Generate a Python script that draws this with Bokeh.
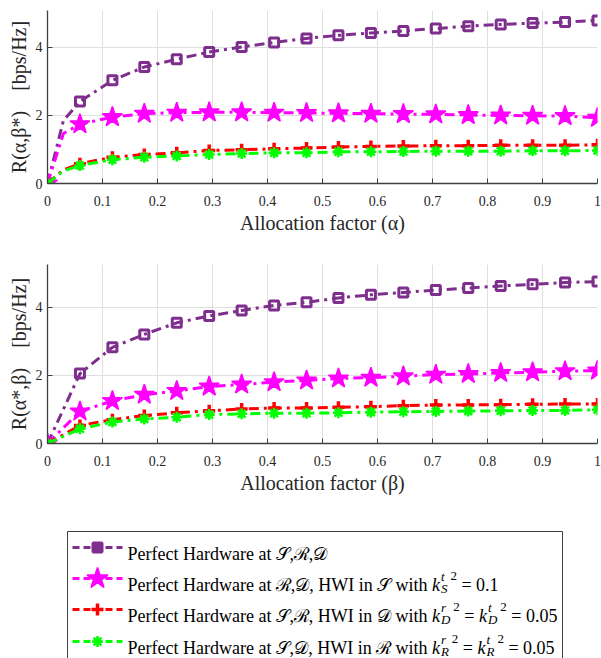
from bokeh.plotting import figure
from bokeh.layouts import column
from bokeh.models import Range1d, FixedTicker, ColumnDataSource
from bokeh.embed import file_html
from bokeh.resources import INLINE
from bokeh.core.properties import value

# ---------------- data ----------------
alpha = [0, 0.029, 0.059, 0.118, 0.176, 0.235, 0.294, 0.353, 0.412, 0.471,
         0.529, 0.588, 0.647, 0.706, 0.765, 0.824, 0.882, 0.941, 1.0]
top_purple = [0, 1.85, 2.41, 3.03, 3.42, 3.65, 3.86, 4.01, 4.14, 4.26,
              4.35, 4.42, 4.48, 4.55, 4.62, 4.67, 4.71, 4.74, 4.79]
top_magenta = [0, 1.47, 1.74, 1.95, 2.05, 2.08, 2.09, 2.09, 2.08, 2.07,
               2.06, 2.05, 2.04, 2.03, 2.01, 2.00, 1.99, 1.98, 1.93]
top_red = [0, 0.40, 0.58, 0.77, 0.85, 0.90, 0.97, 0.99, 1.02, 1.04,
           1.07, 1.09, 1.10, 1.11, 1.11, 1.12, 1.12, 1.12, 1.14]
top_green = [0, 0.37, 0.53, 0.70, 0.77, 0.81, 0.85, 0.88, 0.90, 0.90,
             0.93, 0.93, 0.94, 0.95, 0.95, 0.95, 0.96, 0.96, 0.97]
top_no_marker_index = 1

beta = [0, 0.059, 0.118, 0.176, 0.235, 0.294, 0.353, 0.412, 0.471,
        0.529, 0.588, 0.647, 0.706, 0.765, 0.824, 0.882, 0.941, 1.0]
bot_purple = [0, 2.05, 2.82, 3.20, 3.54, 3.74, 3.90, 4.05, 4.14,
              4.27, 4.36, 4.43, 4.50, 4.56, 4.62, 4.67, 4.72, 4.75]
bot_magenta = [0, 0.94, 1.25, 1.43, 1.54, 1.67, 1.73, 1.80, 1.85,
               1.91, 1.93, 1.97, 2.02, 2.04, 2.07, 2.09, 2.12, 2.14]
bot_red = [0, 0.53, 0.70, 0.82, 0.90, 0.96, 1.01, 1.04, 1.04,
           1.06, 1.08, 1.11, 1.13, 1.13, 1.14, 1.15, 1.16, 1.16]
bot_green = [0, 0.43, 0.63, 0.72, 0.77, 0.85, 0.87, 0.89, 0.89,
             0.90, 0.92, 0.93, 0.94, 0.95, 0.96, 0.97, 0.97, 0.99]

x_ticks = [0, 0.1, 0.2, 0.3, 0.4, 0.5, 0.6, 0.7, 0.8, 0.9, 1.0]
x_tick_labels = ["0", "0.1", "0.2", "0.3", "0.4", "0.5", "0.6", "0.7", "0.8", "0.9", "1"]
y_ticks = [0, 2, 4]
y_tick_labels = ["0", "2", "4"]

# ---------------- styles ----------------
FONT = "Liberation Serif"
PURPLE = "#7E2F8E"
MAGENTA = "#FF00FF"
RED = "#FF0000"
GREEN = "#00FF00"
DASH = "10 5 3 5"
AX = "#404040"
NB = "\u00a0"

styles = [
    dict(color=PURPLE, marker="square", size=9, lw=3, fill=0.0),
    dict(color=MAGENTA, marker="star", size=21, lw=1.5, fill=1.0),
    dict(color=RED, marker="cross", size=12, lw=3.5, fill=1.0),
    dict(color=GREEN, marker="asterisk", size=11, lw=2.5, fill=1.0),
]


def make_plot(xs, series, skip_idx, ylabel, xlabel, ymax, height, b_top, b_bottom):
    p = figure(width=601, height=height, output_backend="svg", toolbar_location=None,
               min_border_left=47, min_border_right=4,
               min_border_top=b_top, min_border_bottom=b_bottom,
               x_range=Range1d(0, 1), y_range=Range1d(0, ymax))
    p.outline_line_color = None
    p.background_fill_color = "white"
    p.border_fill_color = "white"
    for ys, st in zip(series, styles):
        p.line(xs, ys, line_color=st["color"], line_width=3, line_dash=DASH)
        mx = [x for i, x in enumerate(xs) if i != skip_idx]
        my = [y for i, y in enumerate(ys) if i != skip_idx]
        p.scatter(mx, my, marker=st["marker"], size=st["size"],
                  line_color=st["color"], line_width=st["lw"],
                  fill_color=st["color"], fill_alpha=st["fill"])
    p.xaxis.ticker = FixedTicker(ticks=x_ticks)
    p.xaxis.major_label_overrides = dict(zip(x_ticks, x_tick_labels))
    p.yaxis.ticker = FixedTicker(ticks=y_ticks)
    p.yaxis.major_label_overrides = dict(zip(y_ticks, y_tick_labels))
    for ax in (p.xaxis, p.yaxis):
        ax.axis_line_color = AX
        ax.axis_line_width = 1.3
        ax.major_tick_line_color = AX
        ax.major_tick_in = 5
        ax.major_tick_out = 0
        ax.minor_tick_line_color = None
        ax.major_label_text_font = FONT
        ax.major_label_text_font_size = "14px"
        ax.major_label_text_color = "#262626"
        ax.axis_label_text_font = FONT
        ax.axis_label_text_font_size = "20px"
        ax.axis_label_text_font_style = "normal"
        ax.axis_label_text_color = "#262626"
    p.xaxis.major_label_standoff = 12
    p.xaxis.axis_label_standoff = 3
    p.yaxis.major_label_standoff = 5
    p.yaxis.axis_label_standoff = 3
    p.xaxis.axis_label = xlabel
    p.yaxis.axis_label = ylabel
    p.grid.grid_line_color = "#dfdfdf"
    p.grid.grid_line_width = 1
    return p


p1 = make_plot(alpha, [top_purple, top_magenta, top_red, top_green], top_no_marker_index,
               f"R(α,β*){NB}{NB}{NB}{NB}[bps/Hz]", "Allocation factor (α)", 5.08, 240, 10, 57)
p2 = make_plot(beta, [bot_purple, bot_magenta, bot_red, bot_green], -1,
               f"R(α*,β){NB}{NB}{NB}{NB}[bps/Hz]", "Allocation factor (β)", 5.25, 264, 24, 61)

# ---------------- legend panel ----------------
W_REG = {' ': 250, ',': 250, '.': 250, '=': 564, '0': 500, '1': 500, '2': 500, '5': 500,
         'H': 722, 'I': 333, 'P': 556, 'W': 944, 'S': 556, 'R': 667, 'D': 722,
         'a': 444, 'c': 444, 'd': 500, 'e': 444, 'f': 333, 'h': 500, 'i': 278,
         'k': 500, 'n': 500, 'r': 333, 't': 278, 'w': 722}
W_IT = {'k': 444, 't': 278, 'r': 389, 'S': 500, 'R': 611, 'D': 722, '2': 500}
SCRIPT = {"𝒮": 760, "ℛ": 820, "𝒟": 780}


def tw(s, size, italic=False):
    tot = 0
    for ch in s:
        if ch in SCRIPT:
            tot += SCRIPT[ch]
        elif italic:
            tot += W_IT.get(ch, 500)
        else:
            tot += W_REG.get(ch, 500)
    return tot * size / 1000.0


legend_labels = [
    [("Perfect Hardware at ",), ("𝒮",), (",",), ("ℛ",), (",",), ("𝒟",)],
    [("Perfect Hardware at ",), ("ℛ",), (",",), ("𝒟",), (", HWI in ",), ("𝒮",), (" with ",),
     ("k", "i"), ("t", "S"), ("2", "sq"), (" = 0.1",)],
    [("Perfect Hardware at ",), ("𝒮",), (",",), ("ℛ",), (", HWI in ",), ("𝒟",), (" with ",),
     ("k", "i"), ("r", "D"), ("2", "sq"), (" = ",), ("k", "i"), ("t", "D"), ("2", "sq"), (" = 0.05",)],
    [("Perfect Hardware at ",), ("𝒮",), (",",), ("𝒟",), (", HWI in ",), ("ℛ",), (" with ",),
     ("k", "i"), ("r", "R"), ("2", "sq"), (" = ",), ("k", "i"), ("t", "R"), ("2", "sq"), (" = 0.05",)],
]

MAIN = 18
SMALL = 13
LEG_H = 154
BOX = dict(left=20, right=515, top=27, bottom=LEG_H + 10)
row_center = [43, 74, 105, 137]
text_x0 = 80

tx, ty, tt, tsz, tst = [], [], [], [], []
for row, yc in zip(legend_labels, row_center):
    base = yc + 6
    x = float(text_x0)
    for piece in row:
        s = piece[0].replace(" ", NB)
        if len(piece) == 1:
            tx.append(x); ty.append(base); tt.append(s); tsz.append(f"{MAIN}px"); tst.append("normal")
            x += tw(piece[0], MAIN)
        elif piece[1] == "i":
            tx.append(x); ty.append(base); tt.append(s); tsz.append(f"{MAIN}px"); tst.append("italic")
            x += tw(piece[0], MAIN, True)
        elif piece[1] == "sq":
            x += 3
            tx.append(x); ty.append(base - 9); tt.append(s); tsz.append(f"{SMALL}px"); tst.append("normal")
            x += tw(piece[0], SMALL)
        else:
            sup, sub = piece
            x0 = x + 1
            tx.append(x0); ty.append(base - 8); tt.append(sup); tsz.append(f"{SMALL}px"); tst.append("italic")
            tx.append(x0); ty.append(base + 4); tt.append(sub); tsz.append(f"{SMALL}px"); tst.append("italic")
            x = x0 + max(tw(sup, SMALL, True), tw(sub, SMALL, True))

pl = figure(width=601, height=LEG_H, output_backend="svg", toolbar_location=None,
            x_axis_type=None, y_axis_type=None,
            min_border_left=47, min_border_right=4, min_border_top=0, min_border_bottom=0,
            x_range=Range1d(0, 550), y_range=Range1d(LEG_H, 0))
pl.grid.visible = False
pl.outline_line_color = None
pl.border_fill_color = "white"
pl.quad(left=[BOX["left"]], right=[BOX["right"]], top=[BOX["top"]], bottom=[BOX["bottom"]],
        fill_color="white", line_color=AX, line_width=1)

src = ColumnDataSource(dict(x=tx, y=ty, text=tt, size=tsz, style=tst))
pl.text(x="x", y="y", text="text", source=src, text_font=value(FONT),
        text_font_size="size", text_font_style="style", text_color="black",
        text_baseline="alphabetic", text_align="left")

for st, yc in zip(styles, row_center):
    pl.line([25, 75], [yc, yc], line_color=st["color"], line_width=3, line_dash="7 4")
    pl.scatter([50], [yc], marker=st["marker"], size=st["size"] if st["marker"] != "star" else 22,
               line_color=st["color"], line_width=st["lw"],
               fill_color=st["color"], fill_alpha=1.0 if st["marker"] == "square" else st["fill"])

layout = column(p1, p2, pl, spacing=0)
open("out.html", "w").write(file_html(layout, INLINE))
